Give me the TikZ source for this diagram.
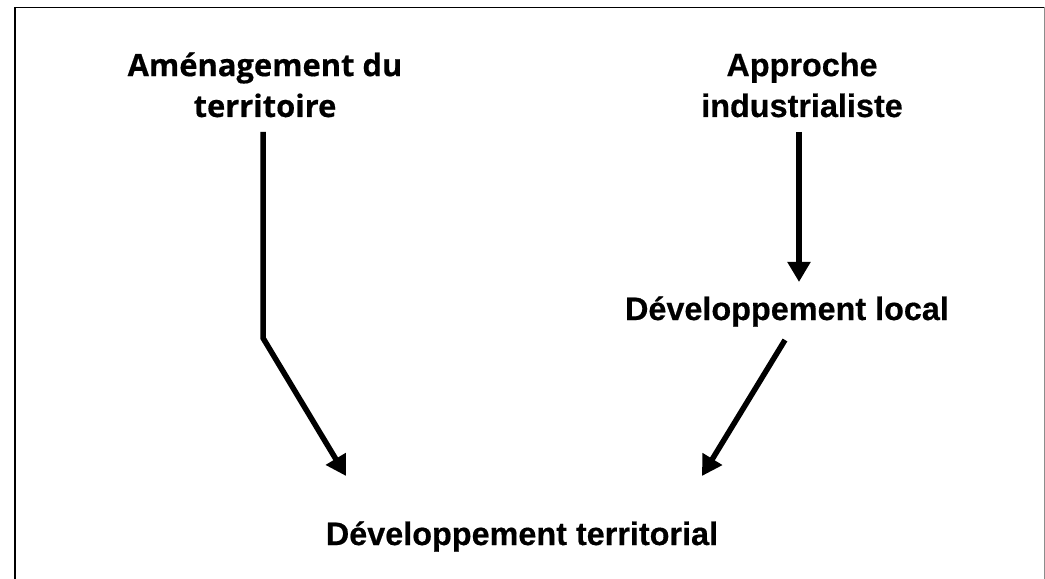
\documentclass[tikz,border=0pt]{standalone}
\usepackage{fontspec}
\setmainfont{Liberation Sans}[BoldFeatures={FakeBold=0.5}]
\newfontfamily\opensans{Open Sans}[BoldFeatures={FakeBold=0.5}]
\usetikzlibrary{arrows.meta}
\tikzset{
  lbl/.style={inner sep=0pt, align=center, font=\fontsize{32.5}{41}\selectfont\bfseries},
  lblb/.style={lbl, font=\opensans\fontsize{31}{41}\selectfont\bfseries},
  conn/.style={line width=5.5bp, -{Triangle[length=20bp,width=22bp]}},
  frame/.style={line width=1.6bp, black}
}
\begin{document}
\begin{tikzpicture}[x=1bp,y=-1bp]
\useasboundingbox (0,0) rectangle (1045,579);
% frame (top, left, right; bottom open)
\coordinate (fbl) at (15,580);
\coordinate (ftl) at (15,7.5);
\coordinate (ftr) at (1044,7.5);
\coordinate (fbr) at (1044,580);
\draw[frame] (fbl) -- (ftl) -- (ftr);
\draw[line width=1bp, black!45] (ftr) -- (fbr);
% labels
\node[lblb, anchor=base] (amen) at (265,117) {Aménagement du\\territoire};
\node[lbl, anchor=base] (appr) at (802,117) {Approche\\industrialiste};
\node[lbl, anchor=base] (dloc) at (787,320) {Développement local};
\node[lbl, anchor=base] (dter) at (522,545) {Développement territorial};
% connectors
\coordinate (a1) at (263,132);
\coordinate (a2) at (263,338);
\coordinate (a3) at (346,476);
\draw[conn] (a1) -- (a2) -- (a3);
\coordinate (b1) at (799,132);
\coordinate (b2) at (799,282);
\draw[conn] (b1) -- (b2);
\coordinate (c1) at (785,340);
\coordinate (c2) at (702,476);
\draw[conn] (c1) -- (c2);
\end{tikzpicture}
\end{document}
